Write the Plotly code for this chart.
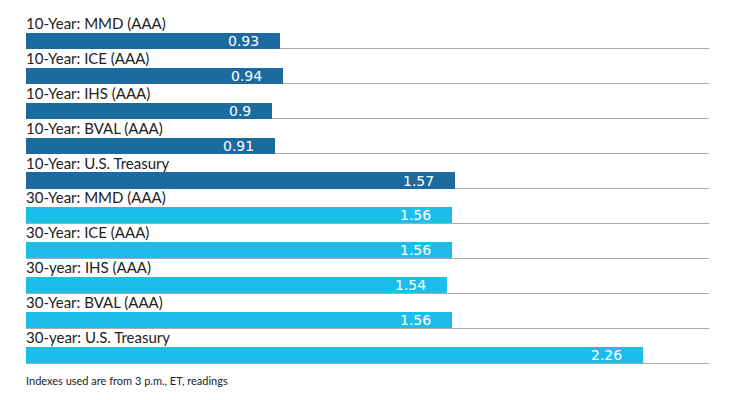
import plotly.graph_objects as go

categories = [
    "10-Year: MMD (AAA)",
    "10-Year: ICE (AAA)",
    "10-Year: IHS (AAA)",
    "10-Year: BVAL (AAA)",
    "10-Year: U.S. Treasury",
    "30-Year: MMD (AAA)",
    "30-Year: ICE (AAA)",
    "30-year: IHS (AAA)",
    "30-Year: BVAL (AAA)",
    "30-year: U.S. Treasury",
]
values = [0.93, 0.94, 0.9, 0.91, 1.57, 1.56, 1.56, 1.54, 1.56, 2.26]
value_labels = ["0.93", "0.94", "0.9", "0.91", "1.57", "1.56", "1.56", "1.54", "1.56", "2.26"]
colors = ["#1B6AA0"] * 5 + ["#1DBDEA"] * 5
footnote = "Indexes used are from 3 p.m., ET, readings"

fig = go.Figure()
fig.add_trace(go.Bar(
    y=categories, x=values, orientation="h",
    marker=dict(color=colors, line=dict(width=0)),
    width=0.46, offset=-0.46,
    hoverinfo="skip",
))

annotations = []
for c, v, t in zip(categories, values, value_labels):
    annotations.append(dict(
        x=0, y=c, xref="x", yref="y", text=c, showarrow=False,
        xanchor="left", yanchor="bottom", yshift=15, xshift=-2,
        font=dict(family="Lato", size=15, color="#222222"),
    ))
    annotations.append(dict(
        x=v, y=c, xref="x", yref="y", text=t, showarrow=False,
        xanchor="right", yanchor="middle", yshift=8, xshift=-19,
        font=dict(family="DejaVu Sans", size=14, color="white"),
    ))
annotations.append(dict(
    x=0, y=0, xref="paper", yref="paper", text=footnote, showarrow=False,
    xanchor="left", yanchor="top", yshift=-2, xshift=-2,
    font=dict(family="Lato", size=11, color="#222222"),
))

fig.update_layout(
    width=740, height=400,
    margin=dict(l=18, r=39, t=6, b=38),
    paper_bgcolor="white", plot_bgcolor="white",
    showlegend=False,
    bargap=0,
    annotations=annotations,
    xaxis=dict(range=[0, 2.5], showgrid=False, zeroline=False,
               showticklabels=False, ticks="", fixedrange=True),
    yaxis=dict(type="category", categoryorder="array", categoryarray=categories,
               range=[9.2, -1], showgrid=True, gridcolor="#AAAAAA", gridwidth=1,
               showticklabels=False, ticks="", zeroline=False, fixedrange=True),
)

fig.write_html("out.html", config={"displayModeBar": False})
